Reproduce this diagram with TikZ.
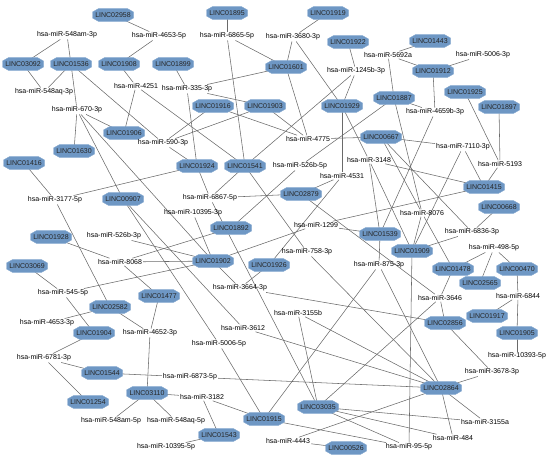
\documentclass[tikz,border=0pt]{standalone}
\usepackage{fontspec}
\setmainfont{Liberation Sans}
\usetikzlibrary{backgrounds}
\definecolor{lincfill}{HTML}{6E97C4}
\definecolor{lincborder}{HTML}{86A9D0}
\definecolor{edgecol}{HTML}{6A6A6A}
\makeatletter
\pgfdeclareshape{octobox}{%
  \inheritsavedanchors[from=rectangle]%
  \inheritanchorborder[from=rectangle]%
  \inheritanchor[from=rectangle]{center}%
  \inheritanchor[from=rectangle]{text}%
  \inheritanchor[from=rectangle]{base}%
  \inheritanchor[from=rectangle]{mid}%
  \inheritanchor[from=rectangle]{north}%
  \inheritanchor[from=rectangle]{south}%
  \inheritanchor[from=rectangle]{east}%
  \inheritanchor[from=rectangle]{west}%
  \backgroundpath{%
    \southwest \edef\octxa{\the\pgf@x}\edef\octya{\the\pgf@y}%
    \northeast \edef\octxb{\the\pgf@x}\edef\octyb{\the\pgf@y}%
    \pgfpathmoveto{\pgfpoint{\octxa+6pt}{\octya}}%
    \pgfpathlineto{\pgfpoint{\octxb-6pt}{\octya}}%
    \pgfpathlineto{\pgfpoint{\octxb}{\octya+3.4pt}}%
    \pgfpathlineto{\pgfpoint{\octxb}{\octyb-3.4pt}}%
    \pgfpathlineto{\pgfpoint{\octxb-6pt}{\octyb}}%
    \pgfpathlineto{\pgfpoint{\octxa+6pt}{\octyb}}%
    \pgfpathlineto{\pgfpoint{\octxa}{\octyb-3.4pt}}%
    \pgfpathlineto{\pgfpoint{\octxa}{\octya+3.4pt}}%
    \pgfpathclose
  }%
}
\makeatother
\begin{document}
\begin{tikzpicture}[x=1pt,y=-1pt,
  linc/.style={shape=octobox, minimum width=41pt, minimum height=12.8pt, inner sep=0pt,
    outer sep=0pt, fill=lincfill, draw=lincborder, line width=0.4pt,
    font=\fontsize{7}{7}\selectfont, text=black!85},
  mir/.style={inner sep=1pt, font=\fontsize{7}{8}\selectfont, text=black},
  conn/.style={draw=edgecol, line width=0.55pt}]
\useasboundingbox (0,0) rectangle (550,461);
% LINC nodes
\node[linc] (L02958) at (113,15) {LINC02958};
\node[linc] (L01895) at (227,13) {LINC01895};
\node[linc] (L01919) at (328,13) {LINC01919};
\node[linc] (L03092) at (23,64) {LINC03092};
\node[linc] (L01536) at (71,64) {LINC01536};
\node[linc] (L01908) at (119,64) {LINC01908};
\node[linc] (L01899) at (173,64) {LINC01899};
\node[linc] (L01601) at (286,67) {LINC01601};
\node[linc] (L01922) at (348,42) {LINC01922};
\node[linc] (L01443) at (430,41) {LINC01443};
\node[linc] (L01912) at (433,71) {LINC01912};
\node[linc] (L01916) at (213,106) {LINC01916};
\node[linc] (L01903) at (265,106) {LINC01903};
\node[linc] (L01929) at (342,106) {LINC01929};
\node[linc] (L01887) at (394,98) {LINC01887};
\node[linc] (L01925) at (465,92) {LINC01925};
\node[linc] (L01897) at (499,107) {LINC01897};
\node[linc] (L01906) at (124,133) {LINC01906};
\node[linc] (L01630) at (74,151) {LINC01630};
\node[linc] (L00667) at (381,137) {LINC00667};
\node[linc] (L01416) at (24,163) {LINC01416};
\node[linc] (L01924) at (197,166) {LINC01924};
\node[linc] (L01541) at (245,166) {LINC01541};
\node[linc] (L01415) at (484,187) {LINC01415};
\node[linc] (L00907) at (123,199) {LINC00907};
\node[linc] (L02879) at (301,194) {LINC02879};
\node[linc] (L01892) at (231,228) {LINC01892};
\node[linc] (L01539) at (380,234) {LINC01539};
\node[linc] (L00668) at (499,207) {LINC00668};
\node[linc] (L01928) at (51,237) {LINC01928};
\node[linc] (L01902) at (213,261) {LINC01902};
\node[linc] (L01926) at (269,265) {LINC01926};
\node[linc] (L01909) at (412,251) {LINC01909};
\node[linc] (L01478) at (453,269) {LINC01478};
\node[linc] (L00470) at (517,269) {LINC00470};
\node[linc] (L02565) at (480,283) {LINC02565};
\node[linc] (L03069) at (27,266) {LINC03069};
\node[linc] (L01477) at (159,296) {LINC01477};
\node[linc] (L02582) at (110,307) {LINC02582};
\node[linc] (L01904) at (94,333) {LINC01904};
\node[linc] (L02856) at (445,323) {LINC02856};
\node[linc] (L01917) at (487,316) {LINC01917};
\node[linc] (L01905) at (517,333) {LINC01905};
\node[linc] (L01544) at (102,373) {LINC01544};
\node[linc] (L01254) at (88,402) {LINC01254};
\node[linc] (L02864) at (441,388) {LINC02864};
\node[linc] (L03110) at (147,393) {LINC03110};
\node[linc] (L01915) at (264,419) {LINC01915};
\node[linc] (L03035) at (318,407) {LINC03035};
\node[linc] (L01543) at (219,435) {LINC01543};
\node[linc] (L00526) at (346,448) {LINC00526};
% miRNA nodes
\node[mir] (m548am3p) at (67,35) {hsa-miR-548am-3p};
\node[mir] (m4653x5p) at (159,36) {hsa-miR-4653-5p};
\node[mir] (m6865) at (227,36) {hsa-miR-6865-5p};
\node[mir] (m3680) at (293,37) {hsa-miR-3680-3p};
\node[mir] (m1245b) at (356,71) {hsa-miR-1245b-3p};
\node[mir] (m5692a) at (388,55) {hsa-miR-5692a};
\node[mir] (m5006x3p) at (483,55) {hsa-miR-5006-3p};
\node[mir] (m548aq3p) at (44,92) {hsa-miR-548aq-3p};
\node[mir] (m4251) at (136,86) {hsa-miR-4251};
\node[mir] (m335) at (187,89) {hsa-miR-335-3p};
\node[mir] (m670) at (77,110) {hsa-miR-670-3p};
\node[mir] (m4659b) at (435,112) {hsa-miR-4659b-3p};
\node[mir] (m590) at (163,143) {hsa-miR-590-3p};
\node[mir] (m4775) at (308,139) {hsa-miR-4775};
\node[mir] (m7110) at (463,147) {hsa-miR-7110-3p};
\node[mir] (m3148) at (369,160) {hsa-miR-3148};
\node[mir] (m5193) at (500,164) {hsa-miR-5193};
\node[mir] (m526b5p) at (300,166) {hsa-miR-526b-5p};
\node[mir] (m4531) at (342,176) {hsa-miR-4531};
\node[mir] (m3177) at (55,200) {hsa-miR-3177-5p};
\node[mir] (m6867) at (210,198) {hsa-miR-6867-5p};
\node[mir] (m10395x3p) at (193,213) {hsa-miR-10395-3p};
\node[mir] (m1299) at (316,225) {hsa-miR-1299};
\node[mir] (m8076) at (422,213) {hsa-miR-8076};
\node[mir] (m6836) at (472,232) {hsa-miR-6836-3p};
\node[mir] (m526b3p) at (114,236) {hsa-miR-526b-3p};
\node[mir] (m8068) at (120,262) {hsa-miR-8068};
\node[mir] (m758) at (307,252) {hsa-miR-758-3p};
\node[mir] (m875) at (379,265) {hsa-miR-875-3p};
\node[mir] (m498) at (494,248) {hsa-miR-498-5p};
\node[mir] (m3664) at (240,288) {hsa-miR-3664-3p};
\node[mir] (m545) at (63,293) {hsa-miR-545-5p};
\node[mir] (m3646) at (440,298) {hsa-miR-3646};
\node[mir] (m6844) at (518,296) {hsa-miR-6844};
\node[mir] (m4653x3p) at (47,323) {hsa-miR-4653-3p};
\node[mir] (m4652) at (150,333) {hsa-miR-4652-3p};
\node[mir] (m3155b) at (298,313) {hsa-miR-3155b};
\node[mir] (m3612) at (243,328) {hsa-miR-3612};
\node[mir] (m5006x5p) at (219,344) {hsa-miR-5006-5p};
\node[mir] (m10393) at (517,356) {hsa-miR-10393-5p};
\node[mir] (m6781) at (44,358) {hsa-miR-6781-3p};
\node[mir] (m6873) at (190,377) {hsa-miR-6873-5p};
\node[mir] (m3678) at (492,372) {hsa-miR-3678-3p};
\node[mir] (m3182) at (202,397) {hsa-miR-3182};
\node[mir] (m548am5p) at (111,421) {hsa-miR-548am-5p};
\node[mir] (m548aq5p) at (176,421) {hsa-miR-548aq-5p};
\node[mir] (m10395x5p) at (166,447) {hsa-miR-10395-5p};
\node[mir] (m4443) at (288,441) {hsa-miR-4443};
\node[mir] (m3155a) at (485,422) {hsa-miR-3155a};
\node[mir] (m484) at (453,438) {hsa-miR-484};
\node[mir] (m95) at (409,447) {hsa-miR-95-5p};
% connectors (lncRNA -- miRNA)
\begin{pgfonlayer}{background}
\foreach \a/\b in {L02958/m4653x5p, L03092/m548am3p, L01536/m548am3p, L03092/m548aq3p,
  L01536/m548aq3p, L01908/m4653x5p, L01908/m4251, L01536/m670, L01536/m590,
  L01906/m4251, L01541/m4251, L01906/m670, L01630/m670, L00907/m670, L01902/m670,
  L01899/m335, L01895/m6865, L01919/m3680, L01601/m6865, L01601/m3680, L01929/m3680,
  L01922/m1245b, L01929/m1245b, L01541/m1245b, L01601/m4775, L01916/m4775, L01903/m4775,
  L00667/m4775, L01916/m590, L01903/m590, L01924/m590, L01541/m6865, L01601/m335,
  L01903/m335, L01924/m335, L01443/m5692a, L01912/m5692a, L01912/m5006x3p, L01912/m4659b,
  L01887/m4659b, L01887/m5692a, L01887/m8076, L00667/m8076, L01925/m5193, L01897/m5193,
  L01415/m5193, L00667/m7110, L01415/m7110, L01909/m7110, L00667/m6836, L00668/m6836,
  L01909/m6836, L01909/m8076, L01478/m8076, L01539/m4659b, L01929/m3148, L01929/m4531,
  L01539/m3148, L01909/m3148, L01415/m3148, L01892/m526b5p, L01887/m526b5p,
  L02879/m4531, L01926/m4531, L02879/m6867, L01924/m6867, L01541/m6867, L03035/m6867,
  L01541/m758, L01924/m3177, L01416/m3177, L02582/m3177, L01539/m1299, L01415/m1299,
  L01902/m1299, L02879/m3646, L01902/m10395x3p, L01902/m526b3p, L01902/m8068,
  L01892/m8068, L01928/m8068, L01477/m8068, L03069/m545, L01902/m545, L01904/m545,
  L01902/m3664, L01926/m3664, L02856/m3664, L02864/m758, L01539/m875, L02864/m875,
  L01915/m875, L01478/m498, L02565/m498, L00470/m498, L00470/m6844, L01917/m6844,
  L01905/m6844, L01905/m10393, L01478/m3646, L02856/m3646, L03035/m3646, L01909/m95,
  L02856/m3678, L02864/m3678, L02582/m4653x3p, L02582/m4652, L01477/m4652, L03110/m4652,
  L01904/m6781, L01544/m6781, L01254/m6781, L01544/m6873, L02864/m6873, L03110/m548am5p,
  L03110/m548aq5p, L03110/m3182, L01915/m3182, L01543/m3182, L01543/m10395x5p,
  L00907/m3612, L00907/m5006x5p, L02864/m3612, L01915/m5006x5p, L03035/m3155b,
  L02864/m3155b, L03035/m3155a, L03035/m484, L03035/m95, L02864/m3155a, L02864/m484,
  L01915/m95, L02864/m4443, L00526/m4443}
  \draw[conn] (\a.center) -- (\b);
\end{pgfonlayer}
\end{tikzpicture}
\end{document}
